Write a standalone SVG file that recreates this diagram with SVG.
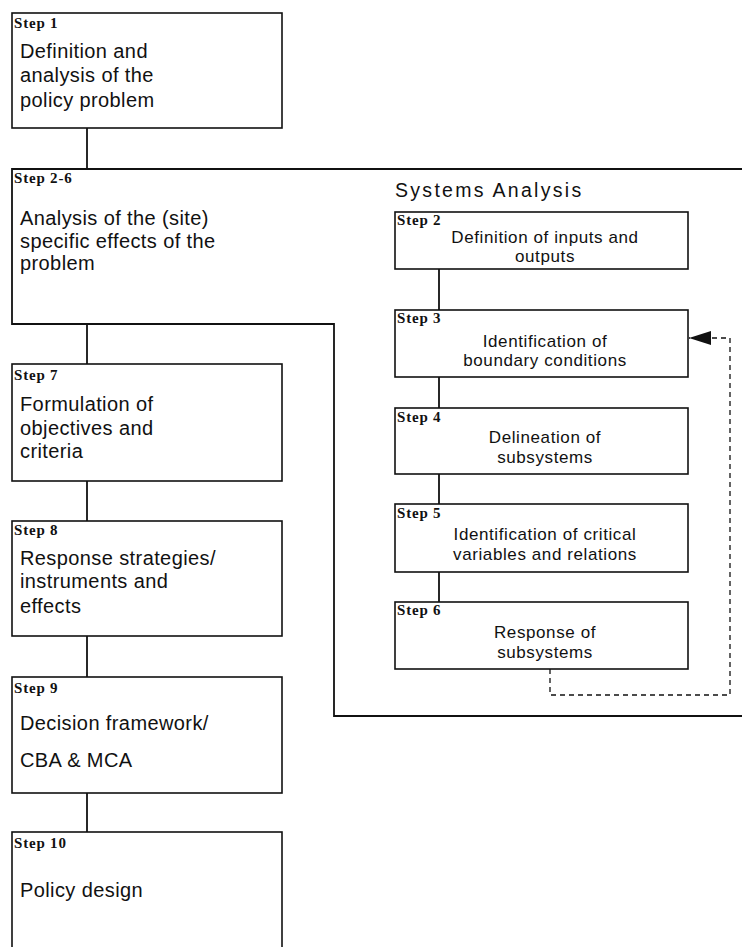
<svg xmlns="http://www.w3.org/2000/svg" width="742" height="947" viewBox="0 0 742 947">
<style>
.box{fill:#fff;stroke:#111;stroke-width:1.6}
.ln{fill:none;stroke:#111;stroke-width:1.8}
.dash{fill:none;stroke:#111;stroke-width:1.3;stroke-dasharray:5 4}
.lbl{font-family:"Liberation Serif",serif;font-weight:bold;font-size:15px;fill:#111;letter-spacing:0.8px}
.big{font-family:"Liberation Sans",Arial,sans-serif;font-size:20px;fill:#111;letter-spacing:0.4px}
.sm{font-family:"Liberation Sans",Arial,sans-serif;font-size:17px;fill:#111;letter-spacing:0.6px;text-anchor:middle}
.ttl{font-family:"Liberation Sans",Arial,sans-serif;font-size:19.5px;fill:#111;letter-spacing:2.3px}
</style>
<defs>
<marker id="ah" markerWidth="24" markerHeight="16" refX="22" refY="7" orient="auto" markerUnits="userSpaceOnUse">
<path d="M0,0 L22,7 L0,14 Z" fill="#111"/>
</marker>
</defs>
<rect width="742" height="947" fill="#fff"/>

<g id="connectors">
<line class="ln" x1="87" y1="128" x2="87" y2="169"/>
<line class="ln" x1="87" y1="324" x2="87" y2="364"/>
<line class="ln" x1="87" y1="481" x2="87" y2="521"/>
<line class="ln" x1="87" y1="636" x2="87" y2="677"/>
<line class="ln" x1="87" y1="793" x2="87" y2="832"/>
<line class="ln" x1="439" y1="269" x2="439" y2="310"/>
<line class="ln" x1="439" y1="377" x2="439" y2="408"/>
<line class="ln" x1="439" y1="474" x2="439" y2="504"/>
<line class="ln" x1="439" y1="572" x2="439" y2="602"/>
<polyline class="dash" points="550,669 550,695 730,695 730,338 689,338" marker-end="url(#ah)"/>
</g>

<g id="step1">
<rect class="box" x="12" y="13" width="270" height="115"/>
<text class="lbl" x="14" y="28">Step 1</text>
<text class="big" x="20" y="58">Definition and</text>
<text class="big" x="20" y="82">analysis of the</text>
<text class="big" x="20" y="107">policy problem</text>
</g>

<g id="step2-6">
<polyline class="ln" points="742,169 12,169 12,324 334,324 334,716 742,716"/>
<text class="lbl" x="14" y="183">Step 2-6</text>
<text class="big" x="20" y="225">Analysis of the (site)</text>
<text class="big" x="20" y="248">specific effects of the</text>
<text class="big" x="20" y="270">problem</text>
<text class="ttl" x="395" y="197">Systems Analysis</text>
</g>

<g id="step2">
<rect class="box" x="395" y="212" width="293" height="57"/>
<text class="lbl" x="397" y="225">Step 2</text>
<text class="sm" x="545" y="243">Definition of inputs and</text>
<text class="sm" x="545" y="262">outputs</text>
</g>

<g id="step3">
<rect class="box" x="395" y="310" width="293" height="67"/>
<text class="lbl" x="397" y="323">Step 3</text>
<text class="sm" x="545" y="347">Identification of</text>
<text class="sm" x="545" y="366">boundary conditions</text>
</g>

<g id="step4">
<rect class="box" x="395" y="408" width="293" height="66"/>
<text class="lbl" x="397" y="422">Step 4</text>
<text class="sm" x="545" y="443">Delineation of</text>
<text class="sm" x="545" y="463">subsystems</text>
</g>

<g id="step5">
<rect class="box" x="395" y="504" width="293" height="68"/>
<text class="lbl" x="397" y="518">Step 5</text>
<text class="sm" x="545" y="540">Identification of critical</text>
<text class="sm" x="545" y="560">variables and relations</text>
</g>

<g id="step6">
<rect class="box" x="395" y="602" width="293" height="67"/>
<text class="lbl" x="397" y="615">Step 6</text>
<text class="sm" x="545" y="638">Response of</text>
<text class="sm" x="545" y="658">subsystems</text>
</g>

<g id="step7">
<rect class="box" x="12" y="364" width="270" height="117"/>
<text class="lbl" x="14" y="380">Step 7</text>
<text class="big" x="20" y="411">Formulation of</text>
<text class="big" x="20" y="435">objectives and</text>
<text class="big" x="20" y="458">criteria</text>
</g>

<g id="step8">
<rect class="box" x="12" y="521" width="270" height="115"/>
<text class="lbl" x="14" y="535">Step 8</text>
<text class="big" x="20" y="565">Response strategies/</text>
<text class="big" x="20" y="588">instruments and</text>
<text class="big" x="20" y="613">effects</text>
</g>

<g id="step9">
<rect class="box" x="12" y="677" width="270" height="116"/>
<text class="lbl" x="14" y="693">Step 9</text>
<text class="big" x="20" y="730">Decision framework/</text>
<text class="big" x="20" y="767">CBA &amp; MCA</text>
</g>

<g id="step10">
<rect class="box" x="12" y="832" width="270" height="130"/>
<text class="lbl" x="14" y="848">Step 10</text>
<text class="big" x="20" y="897">Policy design</text>
</g>
</svg>
